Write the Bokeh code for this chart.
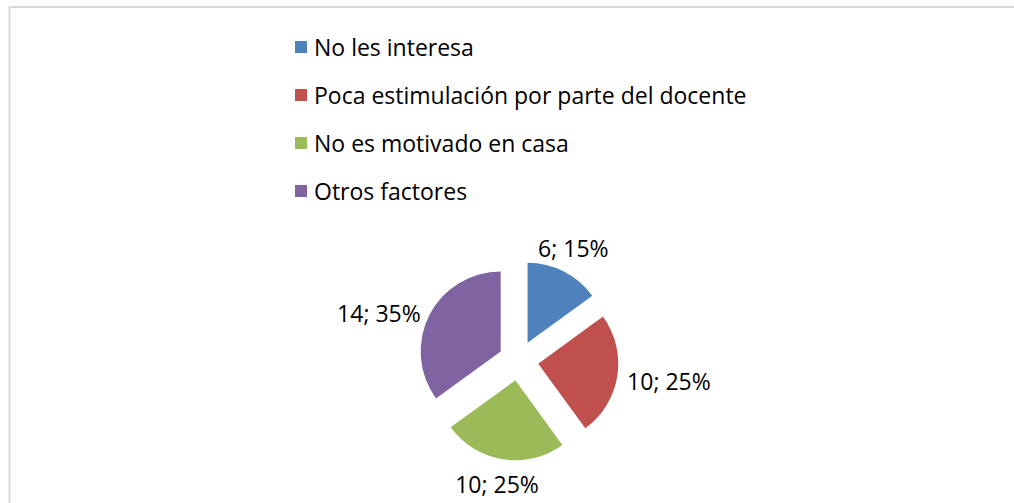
import math
from bokeh.plotting import figure
from bokeh.models import Range1d, Legend, LegendItem, BoxAnnotation, ColumnDataSource
from bokeh.core.properties import value
from bokeh.embed import file_html
from bokeh.resources import INLINE

# ---- data ----
categories = ["No les interesa", "Poca estimulación por parte del docente",
              "No es motivado en casa", "Otros factores"]
counts = [6, 10, 10, 14]
percents = [15, 25, 25, 35]
colors = ["#4F81BD", "#C0504D", "#9BBB59", "#8064A2"]

# ---- layout constants (pixels; data units == pixels, y up) ----
W, H = 1014, 503
CX, CY = 518, 143          # pie centre
R = 80                     # pie radius
EXPLODE = 20               # slice explosion distance
LABEL_GAP = 92             # distance from slice apex to label anchor
HALF_H = 13                # half text height for top/bottom labels
FONT = "Open Sans"
FS = "23px"

total = sum(counts)
xs, ys, starts, ends, mids = [], [], [], [], []
cum = 0.0
for c in counts:
    frac0 = cum / total
    cum += c
    frac1 = cum / total
    a0 = math.pi / 2 - frac0 * 2 * math.pi
    a1 = math.pi / 2 - frac1 * 2 * math.pi
    mid = (a0 + a1) / 2
    starts.append(a0)
    ends.append(a1)
    mids.append(mid)
    xs.append(CX + EXPLODE * math.cos(mid))
    ys.append(CY + EXPLODE * math.sin(mid))

labels = [f"{c}; {pc}%" for c, pc in zip(counts, percents)]
lx, ly, align = [], [], []
for x0, y0, m in zip(xs, ys, mids):
    px = x0 + LABEL_GAP * math.cos(m)
    py = y0 + LABEL_GAP * math.sin(m)
    if abs(math.cos(m)) >= 0.7:
        align.append("left" if math.cos(m) > 0 else "right")
        lx.append(px - 2 * math.copysign(1, math.cos(m)))
        ly.append(py - 3)
    else:
        align.append("center")
        lx.append(px + 4 * math.copysign(1, math.sin(m)))
        ly.append(py + HALF_H * (1 if math.sin(m) > 0 else -1))

src = ColumnDataSource(dict(x=xs, y=ys, start=starts, end=ends, color=colors,
                            cat=categories))
lsrc = ColumnDataSource(dict(x=lx, y=ly, text=labels, align=align))

p = figure(width=W, height=H, x_range=Range1d(0, W), y_range=Range1d(0, H),
           output_backend="svg", toolbar_location=None, min_border=0,
           x_axis_type=None, y_axis_type=None, outline_line_color=None,
           background_fill_color="white", border_fill_color="white")
p.grid.visible = False

# chart-area border (top and left edges visible; the rest lies outside the window)
p.add_layout(BoxAnnotation(left=9, right=W + 20, top=H - 6.5, bottom=-20,
                           fill_alpha=0, line_color="#848484", line_width=2))

r = p.wedge(x="x", y="y", radius=R, start_angle="start", end_angle="end",
            direction="clock", fill_color="color", line_color=None, source=src)

p.text(x="x", y="y", text="text", source=lsrc, text_align="align",
       text_baseline="middle", text_font=value(FONT), text_font_size=FS,
       text_color="black")

legend = Legend(
    items=[LegendItem(label=cat, renderers=[r], index=i) for i, cat in enumerate(categories)],
    location=(293, 296.5), orientation="vertical",
    glyph_width=15, glyph_height=15, label_standoff=6, label_height=32,
    spacing=16, padding=0, margin=0, border_line_color=None,
    background_fill_alpha=0, label_text_font=FONT, label_text_font_size=FS,
    label_text_color="black", label_text_baseline="middle")
p.add_layout(legend, "center")

open("out.html", "w").write(file_html(p, INLINE))
